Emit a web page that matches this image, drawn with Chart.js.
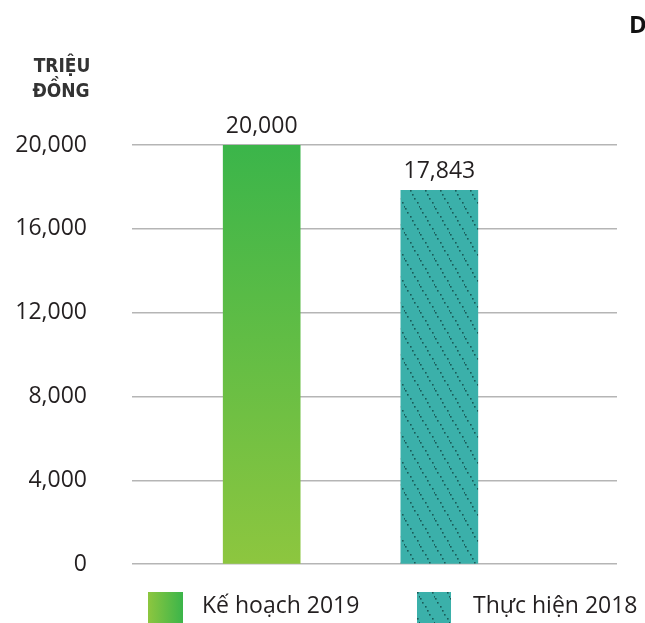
<!DOCTYPE html>
<html>
<head>
<meta charset="utf-8">
<script src="https://cdn.jsdelivr.net/npm/chart.js@4"></script>
<style>
  html, body { margin: 0; padding: 0; background: #ffffff; }
  #wrap { width: 645px; height: 623px; position: relative; }
</style>
</head>
<body>
<div id="wrap"><canvas id="c" width="645" height="623"></canvas></div>
<script>
// ---- data ----
const categories = ["Kế hoạch 2019", "Thực hiện 2018"];
const values = [20000, 17843];
const yTicks = [0, 4000, 8000, 12000, 16000, 20000];
const yAxisTitle = ["TRIỆU", "ĐỒNG"];
const cornerTitle = "D";

// ---- styles ----
const FONT = "'Open Sans', 'Noto Sans', sans-serif";
const TEXT = "#231f20";
const GREEN_TOP = "#3bb54a";
const GREEN_BOT = "#8dc63f";
const TEAL = "#3bb0aa";
const DOT = "#1a5a58";

function fmt(v) { return v.toLocaleString('en-US'); }

function makePattern(ctx) {
  const t = document.createElement('canvas');
  const w = 15, h = 26;
  t.width = w; t.height = h;
  const c = t.getContext('2d');
  c.fillStyle = TEAL;
  c.fillRect(0, 0, w, h);
  c.fillStyle = DOT;
  for (let s = 0; s < h; s += 4) {
    const x = Math.round(s * w / h);
    c.fillRect(x, s, 1.6, 1.6);
  }
  return ctx.createPattern(t, 'repeat');
}

let patternCache = null;
function barFill(context) {
  const chart = context.chart;
  const ctx = chart.ctx;
  const area = chart.chartArea;
  if (context.dataIndex === 0) {
    if (!area) return GREEN_TOP;
    const g = ctx.createLinearGradient(0, area.top, 0, area.bottom);
    g.addColorStop(0, GREEN_TOP);
    g.addColorStop(1, GREEN_BOT);
    return g;
  }
  if (!patternCache) patternCache = makePattern(ctx);
  return patternCache;
}

const labelPlugin = {
  id: 'valueLabels',
  afterDatasetsDraw(chart) {
    const ctx = chart.ctx;
    const meta = chart.getDatasetMeta(0);
    ctx.save();
    ctx.font = "23px " + FONT;
    ctx.fillStyle = TEXT;
    ctx.textAlign = 'center';
    ctx.textBaseline = 'alphabetic';
    meta.data.forEach((bar, i) => {
      ctx.fillText(fmt(values[i]), bar.x, bar.y - 12);
    });
    ctx.restore();
  }
};

const extrasPlugin = {
  id: 'extras',
  afterDraw(chart) {
    const ctx = chart.ctx;
    ctx.save();
    // y axis title
    ctx.font = "bold 19px 'Liberation Sans Narrow', 'DejaVu Sans Condensed', sans-serif";
    ctx.fillStyle = "#333333";
    ctx.textAlign = 'center';
    ctx.textBaseline = 'alphabetic';
    ctx.fillText(yAxisTitle[0], 62, 72);
    ctx.fillText(yAxisTitle[1], 61, 97);
    // corner title
    ctx.font = "bold 24px " + FONT;
    ctx.fillStyle = "#111111";
    ctx.textAlign = 'left';
    ctx.fillText(cornerTitle, 629, 33);
    // legend
    const items = [
      { x: 148, w: 35, tx: 202 },
      { x: 417, w: 34, tx: 473 }
    ];
    items.forEach((it, i) => {
      if (i === 0) {
        const g = ctx.createLinearGradient(it.x, 0, it.x + it.w, 0);
        g.addColorStop(0, GREEN_BOT);
        g.addColorStop(1, GREEN_TOP);
        ctx.fillStyle = g;
      } else {
        ctx.fillStyle = patternCache || makePattern(ctx);
      }
      ctx.fillRect(it.x, 592, it.w, 31);
      ctx.font = "23px " + FONT;
      ctx.fillStyle = TEXT;
      ctx.textAlign = 'left';
      ctx.textBaseline = 'middle';
      ctx.fillText(categories[i], it.tx, 606);
    });
    ctx.restore();
  }
};

new Chart(document.getElementById('c'), {
  type: 'bar',
  data: {
    datasets: [{
      data: values.map((v, i) => ({ x: i + 1, y: v })),
      backgroundColor: barFill,
      borderWidth: 0,
      barThickness: 77
    }]
  },
  options: {
    responsive: false,
    devicePixelRatio: 1,
    animation: false,
    layout: { padding: { top: 145, bottom: 58, left: 0, right: 28 } },
    plugins: { legend: { display: false }, tooltip: { enabled: false } },
    scales: {
      x: { type: 'linear', min: 0.27, max: 3, offset: false, display: false },
      y: {
        min: 0, max: 20000,
        afterBuildTicks(scale) { scale.ticks = yTicks.map(v => ({ value: v })); },
        afterFit(scale) { scale.width = 132; },
        border: { display: false },
        grid: { color: '#b5b5b5', lineWidth: 1.5, drawTicks: false },
        ticks: {
          padding: 45,
          color: TEXT,
          font: { family: FONT, size: 23 },
          callback: v => fmt(v)
        }
      }
    }
  },
  plugins: [labelPlugin, extrasPlugin]
});
</script>
</body>
</html>
